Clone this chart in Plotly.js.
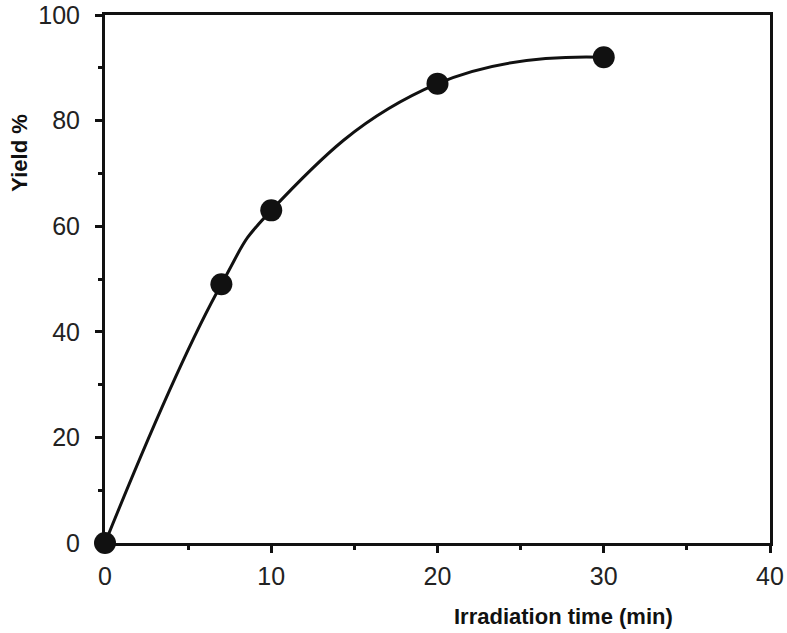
<!DOCTYPE html>
<html>
<head>
<meta charset="utf-8">
<script src="https://cdn.plot.ly/plotly-3.0.1.min.js"></script>
<style>
  body { margin: 0; background: #fff; }
  #chart { width: 787px; height: 633px; }
</style>
</head>
<body>
<div id="chart"></div>
<script>
// irradiation time (min) vs yield (%)
var time_min = [0, 7, 10, 20, 30]
var yield_pct = [0, 49, 63, 87, 92]

var font = 'Liberation Sans, Arial, sans-serif'

var data = [{
  x: time_min,
  y: yield_pct,
  mode: 'lines+markers',
  type: 'scatter',
  line: {color: '#111', width: 3, shape: 'spline', smoothing: 1.3},
  marker: {color: '#111', size: 22},
  cliponaxis: false
}]

var axis_common = {
  showline: true, linecolor: '#111', linewidth: 3, mirror: true,
  ticks: 'outside', ticklen: 7, tickwidth: 3, tickcolor: '#111',
  showgrid: false, zeroline: false,
  tickfont: {family: font, size: 25, color: '#222'}
}

var layout = {
  width: 787, height: 633,
  margin: {l: 105, r: 17, t: 15, b: 90},
  paper_bgcolor: '#fff', plot_bgcolor: '#fff',
  showlegend: false,
  xaxis: Object.assign({}, axis_common, {
    range: [0, 40], dtick: 10, tick0: 0, ticklabelstandoff: 2,
    minor: {ticks: 'outside', ticklen: 4, tickwidth: 3, tickcolor: '#111', dtick: 5}
  }),
  yaxis: Object.assign({}, axis_common, {
    range: [0, 100], dtick: 20, tick0: 0, ticklabelstandoff: 10,
    minor: {ticks: 'outside', ticklen: 4, tickwidth: 3, tickcolor: '#111', dtick: 10}
  }),
  annotations: [
    {text: 'Irradiation time (min)', xref: 'paper', yref: 'paper', x: 0.69, y: -0.14,
     showarrow: false, xanchor: 'center', yanchor: 'middle',
     font: {family: font, size: 22, color: '#111', weight: 'bold'}},
    {text: 'Yield %', xref: 'paper', yref: 'paper', x: -0.128, y: 0.739,
     showarrow: false, textangle: -90, xanchor: 'center', yanchor: 'middle',
     font: {family: font, size: 22, color: '#111', weight: 'bold'}}
  ]
}

Plotly.newPlot('chart', data, layout, {displayModeBar: false})
</script>
</body>
</html>
